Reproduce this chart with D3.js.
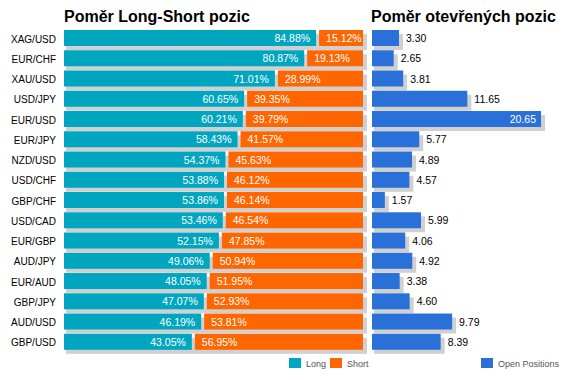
<!DOCTYPE html>
<html><head><meta charset="utf-8">
<script src="https://cdn.jsdelivr.net/npm/d3@7"></script>
<style>body{margin:0;background:#fff}svg{display:block}</style>
</head><body>
<script>
const categories = ["XAG/USD","EUR/CHF","XAU/USD","USD/JPY","EUR/USD","EUR/JPY","NZD/USD","USD/CHF","GBP/CHF","USD/CAD","EUR/GBP","AUD/JPY","EUR/AUD","GBP/JPY","AUD/USD","GBP/USD"];
const longPct = [84.88,80.87,71.01,60.65,60.21,58.43,54.37,53.88,53.86,53.46,52.15,49.06,48.05,47.07,46.19,43.05];
const shortPct = [15.12,19.13,28.99,39.35,39.79,41.57,45.63,46.12,46.14,46.54,47.85,50.94,51.95,52.93,53.81,56.95];
const openPos = [3.30,2.65,3.81,11.65,20.65,5.77,4.89,4.57,1.57,5.99,4.06,4.92,3.38,4.60,9.79,8.39];
const titles = ["Poměr Long-Short pozic","Poměr otevřených pozic"];
const legendLeft = ["Long","Short"];
const legendRight = ["Open Positions"];

const W=566,H=380;
const C={long:"#00A6C0",short:"#FF6600",open:"#2A70D9",shadow:"#D0D0D0"};
const svg=d3.select("body").append("svg").attr("width",W).attr("height",H);
const font="Arial, 'Liberation Sans', sans-serif";

const y=d3.scaleBand().domain(categories).range([30,350]).paddingInner(0.2).paddingOuter(0).align(0);
// band step 20, bar 16
const xL=d3.scaleLinear().domain([0,100]).range([64,361]);
const xR=d3.scaleLinear().domain([0,d3.max(openPos)]).range([372,541]);
const bh=16;

// titles
svg.append("text").attr("x",64).attr("y",22).text(titles[0])
  .attr("font-family",font).attr("font-weight","bold").attr("font-size",16).attr("fill","#000");
svg.append("text").attr("x",371).attr("y",22).text(titles[1])
  .attr("font-family",font).attr("font-weight","bold").attr("font-size",16).attr("fill","#000");

const rows=categories.map((c,i)=>({c,l:longPct[i],s:shortPct[i],o:openPos[i]}));

const g=svg.append("g");
// left shadows
g.selectAll(".sh").data(rows).join("rect")
  .attr("x",xL(0)+2).attr("y",d=>y(d.c)+4).attr("width",xL(100)+2-xL(0)+2).attr("height",bh).attr("fill",C.shadow);
// long
g.selectAll(".lg").data(rows).join("rect")
  .attr("x",xL(0)).attr("y",d=>y(d.c)).attr("width",d=>xL(d.l)-xL(0)).attr("height",bh).attr("fill",C.long);
// short
g.selectAll(".st").data(rows).join("rect")
  .attr("x",d=>xL(d.l)+3).attr("y",d=>y(d.c)).attr("width",d=>xL(100)+2-(xL(d.l)+3)).attr("height",bh).attr("fill",C.short);
// labels
g.selectAll(".ll").data(rows).join("text")
  .attr("x",d=>xL(d.l)-6).attr("y",d=>y(d.c)+12).attr("text-anchor","end")
  .attr("font-family",font).attr("font-size",10.5).attr("fill","#fff").text(d=>d.l.toFixed(2)+"%");
g.selectAll(".sl").data(rows).join("text")
  .attr("x",d=>xL(d.l)+3+7).attr("y",d=>y(d.c)+12)
  .attr("font-family",font).attr("font-size",10.5).attr("fill","#fff").text(d=>d.s.toFixed(2)+"%");
// categories
g.selectAll(".cat").data(rows).join("text")
  .attr("x",56).attr("y",d=>y(d.c)+12.5).attr("text-anchor","end")
  .attr("font-family",font).attr("font-size",10).attr("fill","#000").text(d=>d.c);

// right
g.selectAll(".rsh").data(rows).join("rect")
  .attr("x",xR(0)+2).attr("y",d=>y(d.c)+4).attr("width",d=>xR(d.o)-xR(0)+2).attr("height",bh).attr("fill",C.shadow);
g.selectAll(".rb").data(rows).join("rect")
  .attr("x",xR(0)).attr("y",d=>y(d.c)).attr("width",d=>xR(d.o)-xR(0)).attr("height",bh).attr("fill",C.open);
g.selectAll(".rl").data(rows).join("text")
  .attr("font-family",font).attr("font-size",10.5)
  .text(d=>d.o.toFixed(2))
  .each(function(d){
    const t=d3.select(this);
    const w=this.getComputedTextLength();
    const xe=xR(d.o);
    if(xe+7+w>W-4){ t.attr("x",xe-5).attr("text-anchor","end").attr("fill","#fff"); }
    else { t.attr("x",xe+7).attr("fill","#000"); }
    t.attr("y",y(d.c)+12);
  });

// legend
const lg=[{t:legendLeft[0],c:C.long,x:289},{t:legendLeft[1],c:C.short,x:330},{t:legendRight[0],c:C.open,x:481}];
const lgG=svg.append("g");
lgG.selectAll("rect").data(lg).join("rect").attr("x",d=>d.x).attr("y",358).attr("width",12).attr("height",10).attr("fill",d=>d.c);
lgG.selectAll("text").data(lg).join("text").attr("x",d=>d.x+17).attr("y",366.5)
  .attr("font-family",font).attr("font-size",9).attr("fill","#555").text(d=>d.t);
</script>
</body></html>
